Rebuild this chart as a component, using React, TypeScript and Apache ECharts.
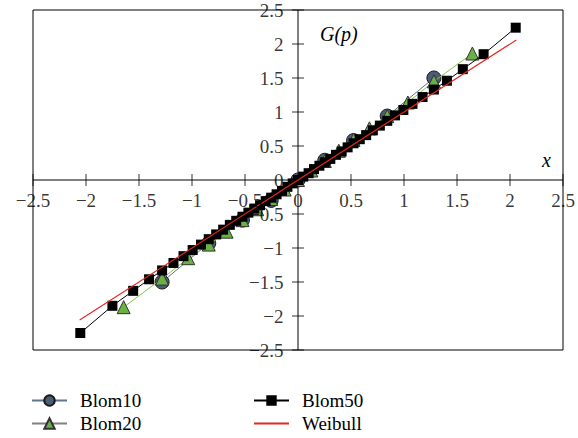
import React, { useEffect, useRef } from "react";
import * as echarts from "echarts";

const FONT = "Liberation Serif";

const blom10X = [-1.282, -0.842, -0.524, -0.253, 0, 0.253, 0.524, 0.842, 1.282];
const blom10Y = [-1.5, -0.93, -0.59, -0.3, 0, 0.29, 0.58, 0.94, 1.5];

const blom20X = [-1.645, -1.282, -1.036, -0.842, -0.674, -0.524, -0.385, -0.253, -0.126, 0, 0.126, 0.253, 0.385, 0.524, 0.674, 0.842, 1.036, 1.282, 1.645];
const blom20Y = [-1.87, -1.45, -1.15, -0.95, -0.76, -0.59, -0.43, -0.28, -0.14, 0, 0.14, 0.28, 0.43, 0.59, 0.76, 0.94, 1.14, 1.45, 1.86];

const blom50X = [-2.054, -1.751, -1.555, -1.405, -1.282, -1.175, -1.08, -0.994, -0.915, -0.842, -0.772, -0.706, -0.643, -0.583, -0.524, -0.468, -0.412, -0.358, -0.305, -0.253, -0.202, -0.151, -0.1, -0.05, 0, 0.05, 0.1, 0.151, 0.202, 0.253, 0.305, 0.358, 0.412, 0.468, 0.524, 0.583, 0.643, 0.706, 0.772, 0.842, 0.915, 0.994, 1.08, 1.175, 1.282, 1.405, 1.555, 1.751, 2.054];
const blom50Y = [-2.25, -1.85, -1.63, -1.46, -1.33, -1.22, -1.12, -1.03, -0.95, -0.87, -0.8, -0.73, -0.66, -0.6, -0.54, -0.48, -0.42, -0.37, -0.31, -0.26, -0.21, -0.16, -0.1, -0.05, 0, 0.05, 0.1, 0.16, 0.21, 0.26, 0.31, 0.37, 0.42, 0.48, 0.54, 0.6, 0.66, 0.73, 0.8, 0.87, 0.95, 1.03, 1.12, 1.22, 1.33, 1.46, 1.63, 1.85, 2.24];

const weibullX = [-2.06, 0, 2.06];
const weibullY = [-2.06, 0, 2.06];

const tickValues = [-2.5, -2, -1.5, -1, -0.5, 0.5, 1, 1.5, 2, 2.5];
const labelValues = [-2.5, -2, -1.5, -1, -0.5, 0, 0.5, 1, 1.5, 2, 2.5];

const AXIS_MIN = -2.5;
const AXIS_MAX = 2.5;
const AXIS_STEP = 0.5;

const zip = (xs: number[], ys: number[]) => xs.map((x, i) => [x, ys[i]]);
const fmt = (v: number) => String(v).replace("-", "\u2212");

export default function App() {
  const ref = useRef<HTMLDivElement>(null);
  useEffect(() => {
    if (!ref.current) return;
    const chart = echarts.init(ref.current, null, { renderer: "svg" });
    const legendText = { fontFamily: FONT, fontSize: 19, color: "#000", padding: [0, 0, 0, 8] };
    const legendItem = (name: string, left: number, top: number, extra: any = {}) => ({
      left,
      top,
      itemWidth: 35,
      itemHeight: 13,
      textStyle: legendText,
      data: [{ name, ...extra }],
    });
    const hiddenAxis = {
      type: "value",
      min: AXIS_MIN,
      max: AXIS_MAX,
      interval: AXIS_STEP,
      splitLine: { show: false },
      axisLine: { show: false },
      axisTick: { show: false },
      axisLabel: { show: false },
    };
    const labelStyle = { fontFamily: FONT, fontSize: 19, color: "#000" };
    chart.setOption({
      animation: false,
      backgroundColor: "#fff",
      grid: {
        left: 33,
        right: 15,
        top: 10,
        bottom: 88,
        outerBoundsMode: "none",
        containLabel: false,
        show: true,
        borderColor: "#000",
        borderWidth: 1,
        backgroundColor: "transparent",
      },
      xAxis: hiddenAxis,
      yAxis: hiddenAxis,
      legend: [
        legendItem("Blom10", 26, 386),
        legendItem("Blom20", 26, 409, { lineStyle: { color: "#808080" } }),
        legendItem("Blom50", 248, 386),
        legendItem("Weibull", 248, 409, { itemStyle: { opacity: 0 } }),
      ],
      graphic: [
        {
          type: "text",
          left: 320,
          top: 24,
          style: { text: "G(p)", fontFamily: FONT, fontStyle: "italic", fontSize: 20, fill: "#000" },
        },
        {
          type: "text",
          left: 542,
          top: 150,
          style: { text: "x", fontFamily: FONT, fontStyle: "italic", fontSize: 20, fill: "#000" },
        },
      ],
      series: [
        {
          name: "xAxisLine",
          type: "line",
          data: [[AXIS_MIN, 0], [AXIS_MAX, 0]],
          symbol: "none",
          lineStyle: { color: "#000", width: 1 },
          silent: true,
          z: 1,
        },
        {
          name: "yAxisLine",
          type: "line",
          data: [[0, AXIS_MIN], [0, AXIS_MAX]],
          symbol: "none",
          lineStyle: { color: "#000", width: 1 },
          silent: true,
          z: 1,
        },
        {
          name: "xTicks",
          type: "scatter",
          data: tickValues.map((v) => [v, 0]),
          symbol: "rect",
          symbolSize: [1, 12],
          itemStyle: { color: "#000" },
          silent: true,
          z: 1,
        },
        {
          name: "yTicks",
          type: "scatter",
          data: tickValues.map((v) => [0, v]),
          symbol: "rect",
          symbolSize: [12, 1],
          itemStyle: { color: "#000" },
          silent: true,
          z: 1,
        },
        {
          name: "xLabels",
          type: "scatter",
          data: labelValues.map((v) => [v, 0]),
          symbol: "circle",
          symbolSize: 1,
          itemStyle: { color: "rgba(0,0,0,0)" },
          label: {
            show: true,
            position: "bottom",
            distance: 10,
            ...labelStyle,
            formatter: (p: any) => fmt(p.value[0]),
          },
          silent: true,
          z: 6,
        },
        {
          name: "yLabels",
          type: "scatter",
          data: labelValues.map((v) => [0, v]),
          symbol: "circle",
          symbolSize: 1,
          itemStyle: { color: "rgba(0,0,0,0)" },
          label: {
            show: true,
            position: "left",
            distance: 14,
            ...labelStyle,
            formatter: (p: any) => fmt(p.value[1]),
          },
          silent: true,
          z: 6,
        },
        {
          name: "Blom10",
          type: "line",
          data: zip(blom10X, blom10Y),
          symbol: "circle",
          symbolSize: 14,
          itemStyle: { color: "#4b5c74", borderColor: "#1a1a1a", borderWidth: 1 },
          lineStyle: { color: "#5f7591", width: 1 },
          z: 2,
        },
        {
          name: "Blom20",
          type: "line",
          data: zip(blom20X, blom20Y),
          symbol: "triangle",
          symbolSize: 13,
          itemStyle: { color: "#6ab044", borderColor: "#333", borderWidth: 1 },
          lineStyle: { color: "#8cc152", width: 1 },
          z: 3,
        },
        {
          name: "Blom50",
          type: "line",
          data: zip(blom50X, blom50Y),
          symbol: "rect",
          symbolSize: 10,
          itemStyle: { color: "#000" },
          lineStyle: { color: "#000", width: 1 },
          z: 4,
        },
        {
          name: "Weibull",
          type: "line",
          data: zip(weibullX, weibullY),
          showSymbol: false,
          symbol: "none",
          itemStyle: { color: "#e8251f" },
          lineStyle: { color: "#e8251f", width: 1.1 },
          z: 5,
        },
      ],
    });
    return () => chart.dispose();
  }, []);
  return <div ref={ref} style={{ width: 578, height: 438, position: "absolute", left: 0, top: 0 }} />;
}
